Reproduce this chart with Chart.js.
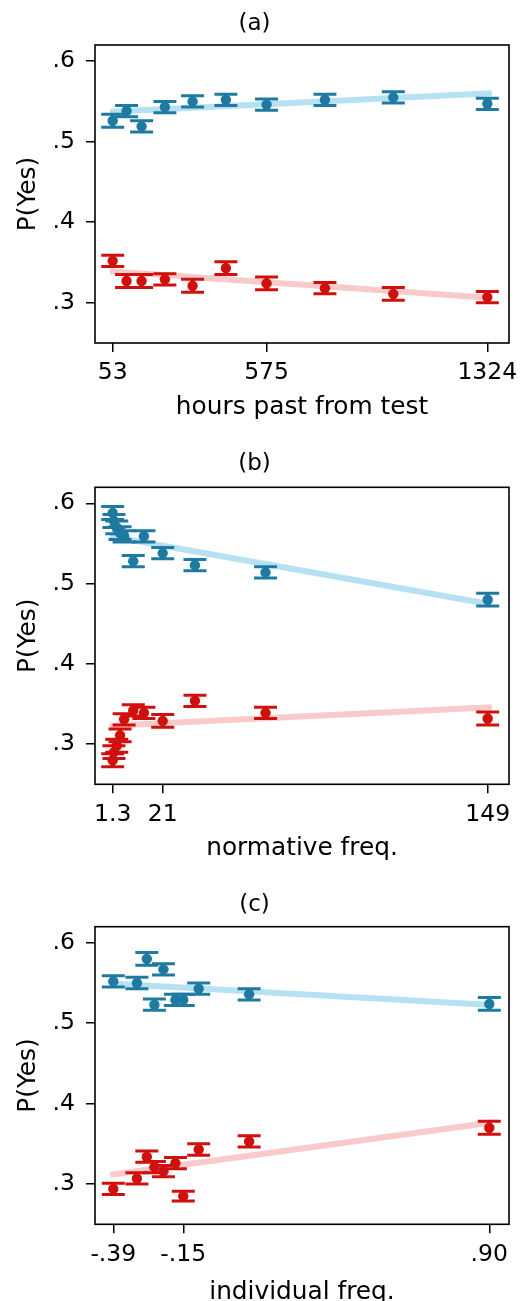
<!DOCTYPE html>
<html><head><meta charset="utf-8">
<script src="https://cdn.jsdelivr.net/npm/chart.js@4.4.1/dist/chart.umd.min.js"></script>
<style>
html,body{margin:0;padding:0;background:#fff;width:526px;height:1301px;overflow:hidden;position:relative;}
canvas{position:absolute;left:0;}
</style></head><body>
<canvas id="ca" width="526" height="440" style="top:0px;width:526px;height:440px"></canvas>
<canvas id="cb" width="526" height="440" style="top:440px;width:526px;height:440px"></canvas>
<canvas id="cc" width="526" height="440" style="top:880px;width:526px;height:440px"></canvas>
<script>
// ---------- data ----------
// (a) hours past from test
const hoursX = [53, 100, 151, 230, 324, 437, 575, 773, 1005, 1324];
const hoursBlue = [0.526, 0.538, 0.519, 0.543, 0.550, 0.552, 0.546, 0.552, 0.555, 0.547];
const hoursBlueErr = [0.008, 0.007, 0.007, 0.007, 0.007, 0.007, 0.007, 0.007, 0.007, 0.007];
const hoursRed = [0.352, 0.327, 0.327, 0.329, 0.321, 0.343, 0.324, 0.318, 0.311, 0.307];
const hoursRedErr = [0.007, 0.008, 0.008, 0.007, 0.008, 0.008, 0.008, 0.007, 0.008, 0.007];
const hoursFitX = [44, 1339];
const hoursFitBlue = [0.537, 0.560];
const hoursFitRed = [0.339, 0.306];
const hoursTicks = [53, 575, 1324];
const hoursTickLabels = ['53', '575', '1324'];

// (b) normative freq.
const normX = [1.3, 1.8, 2.9, 4.2, 5.8, 9.4, 13.6, 21, 33.7, 61.5, 149];
const normBlue = [0.588, 0.578, 0.570, 0.563, 0.559, 0.528, 0.559, 0.538, 0.523, 0.514, 0.480];
const normBlueErr = [0.008, 0.008, 0.008, 0.008, 0.007, 0.007, 0.007, 0.007, 0.007, 0.007, 0.008];
const normRed = [0.280, 0.290, 0.298, 0.311, 0.331, 0.342, 0.339, 0.329, 0.354, 0.339, 0.332];
const normRedErr = [0.008, 0.008, 0.008, 0.008, 0.007, 0.007, 0.007, 0.008, 0.007, 0.007, 0.008];
const normFitX = [0.24, 150.6];
const normFitBlue = [0.559, 0.474];
const normFitRed = [0.323, 0.346];
const normTicks = [1.3, 21, 149];
const normTickLabels = ['1.3', '21', '149'];

// (c) individual freq.
const indX = [-0.39, -0.309, -0.275, -0.249, -0.218, -0.177, -0.15, -0.097, 0.076, 0.90];
const indBlue = [0.552, 0.550, 0.580, 0.523, 0.567, 0.529, 0.529, 0.543, 0.536, 0.524];
const indBlueErr = [0.007, 0.007, 0.008, 0.007, 0.007, 0.007, 0.007, 0.007, 0.007, 0.008];
const indRed = [0.294, 0.307, 0.334, 0.321, 0.316, 0.326, 0.285, 0.343, 0.353, 0.370];
const indRedErr = [0.007, 0.007, 0.007, 0.007, 0.007, 0.007, 0.006, 0.007, 0.007, 0.008];
const indFitX = [-0.40, 0.908];
const indFitBlue = [0.5495, 0.5226];
const indFitRed = [0.3116, 0.3765];
const indTicks = [-0.39, -0.15, 0.90];
const indTickLabels = ['-.39', '-.15', '.90'];

const yTicks = [0.3, 0.4, 0.5, 0.6];
const yTickLabels = ['.3', '.4', '.5', '.6'];

// ---------- style ----------
const FONT = 'DejaVu Sans';
const TXT = '#000';
const BLUE = '#1f7aa2';
const RED = '#cf100c';
const FIT_BLUE = 'rgba(135,206,235,0.62)';
const FIT_RED = 'rgba(240,128,128,0.42)';

const errorBars = {
  id: 'errorBars',
  afterDatasetsDraw(chart) {
    const ctx = chart.ctx, xs = chart.scales.x, ys = chart.scales.y;
    chart.data.datasets.forEach(ds => {
      if (!ds.errors) return;
      ctx.save();
      ctx.strokeStyle = ds.backgroundColor;
      ds.data.forEach((p, j) => {
        const e = ds.errors[j];
        const x = xs.getPixelForValue(p.x);
        const y1 = ys.getPixelForValue(p.y - e), y2 = ys.getPixelForValue(p.y + e);
        ctx.lineWidth = 4;
        ctx.beginPath();
        ctx.moveTo(x, y1); ctx.lineTo(x, y2);
        ctx.stroke();
        ctx.lineWidth = 3;
        ctx.beginPath();
        ctx.moveTo(x - 11.5, y1); ctx.lineTo(x + 11.5, y1);
        ctx.moveTo(x - 11.5, y2); ctx.lineTo(x + 11.5, y2);
        ctx.stroke();
      });
      ctx.restore();
    });
  }
};
const frame = {
  id: 'frame',
  afterDraw(chart) {
    const a = chart.chartArea, ctx = chart.ctx;
    ctx.save();
    ctx.strokeStyle = '#000';
    ctx.lineWidth = 1.6;
    ctx.strokeRect(a.left, a.top, a.right - a.left, a.bottom - a.top);
    ctx.restore();
  }
};

function pts(xs, ys) { return xs.map((x, i) => ({x: x, y: ys[i]})); }

function makePanel(id, cfg) {
  const ctx = document.getElementById(id);
  new Chart(ctx, {
    type: 'scatter',
    data: {
      datasets: [
        {data: pts(cfg.x, cfg.blue), errors: cfg.blueErr, backgroundColor: BLUE, borderColor: BLUE, pointRadius: 5.2, borderWidth: 0, order: 1},
        {data: pts(cfg.x, cfg.red), errors: cfg.redErr, backgroundColor: RED, borderColor: RED, pointRadius: 5.2, borderWidth: 0, order: 1},
        {type: 'line', data: pts(cfg.fitX, cfg.fitBlue), borderColor: FIT_BLUE, borderWidth: 6, pointRadius: 0, fill: false, order: 3},
        {type: 'line', data: pts(cfg.fitX, cfg.fitRed), borderColor: FIT_RED, borderWidth: 6, pointRadius: 0, fill: false, order: 3}
      ]
    },
    options: {
      responsive: false, animation: false, devicePixelRatio: 1,
      layout: {padding: {left: 0, right: 17, top: 0, bottom: 0}},
      plugins: {
        legend: {display: false}, tooltip: {enabled: false},
        title: {display: true, text: cfg.title, color: TXT, font: {family: FONT, size: 23, weight: 'normal'},
                padding: {top: cfg.titlePadTop, bottom: cfg.titlePadBottom}}
      },
      scales: {
        x: {
          type: 'linear', min: cfg.xmin, max: cfg.xmax,
          afterBuildTicks: s => { s.ticks = cfg.ticks.map(v => ({value: v})); },
          afterFit: s => { s.height = 440 - cfg.bottom; },
          ticks: {autoSkip: false, maxRotation: 0, padding: 7, color: TXT, font: {family: FONT, size: 23.5},
                  callback: (v, i) => cfg.tickLabels[i]},
          grid: {display: true, drawOnChartArea: false, drawTicks: true, tickLength: 9, color: '#000', lineWidth: 1.5},
          border: {display: false},
          title: {display: true, text: cfg.xlabel, color: TXT, font: {family: FONT, size: 24.8}, padding: {top: 0, bottom: cfg.xlabelPad}}
        },
        y: {
          type: 'linear', min: 0.25, max: 0.62,
          afterBuildTicks: s => { s.ticks = yTicks.map(v => ({value: v})); },
          afterFit: s => { s.width = 95; },
          ticks: {padding: 11, color: TXT, font: {family: FONT, size: 23.5},
                  callback: (v, i) => yTickLabels[i]},
          grid: {display: true, drawOnChartArea: false, drawTicks: true, tickLength: 9, color: '#000', lineWidth: 1.5},
          border: {display: false},
          title: {display: true, text: 'P(Yes)', color: TXT, font: {family: FONT, size: 24.8}, padding: {top: 14, bottom: 0}}
        }
      }
    },
    plugins: [errorBars, frame]
  });
}

makePanel('ca', {title: '(a)', titlePadTop: 10.5, titlePadBottom: 6.9, bottom: 343,
  x: hoursX, blue: hoursBlue, blueErr: hoursBlueErr, red: hoursRed, redErr: hoursRedErr,
  fitX: hoursFitX, fitBlue: hoursFitBlue, fitRed: hoursFitRed,
  xmin: -7.1, xmax: 1397.6, ticks: hoursTicks, tickLabels: hoursTickLabels,
  xlabel: 'hours past from test', xlabelPad: 17.5});
makePanel('cb', {title: '(b)', titlePadTop: 10, titlePadBottom: 9.7, bottom: 344.3,
  x: normX, blue: normBlue, blueErr: normBlueErr, red: normRed, redErr: normRedErr,
  fitX: normFitX, fitBlue: normFitBlue, fitRed: normFitRed,
  xmin: -5.67, xmax: 157.4, ticks: normTicks, tickLabels: normTickLabels,
  xlabel: 'normative freq.', xlabelPad: 16.5});
makePanel('cc', {title: '(c)', titlePadTop: 11.3, titlePadBottom: 7.8, bottom: 344.3,
  x: indX, blue: indBlue, blueErr: indBlueErr, red: indRed, redErr: indRedErr,
  fitX: indFitX, fitBlue: indFitBlue, fitRed: indFitRed,
  xmin: -0.4528, xmax: 0.9676, ticks: indTicks, tickLabels: indTickLabels,
  xlabel: 'individual freq.', xlabelPad: 13});
</script>
</body></html>
